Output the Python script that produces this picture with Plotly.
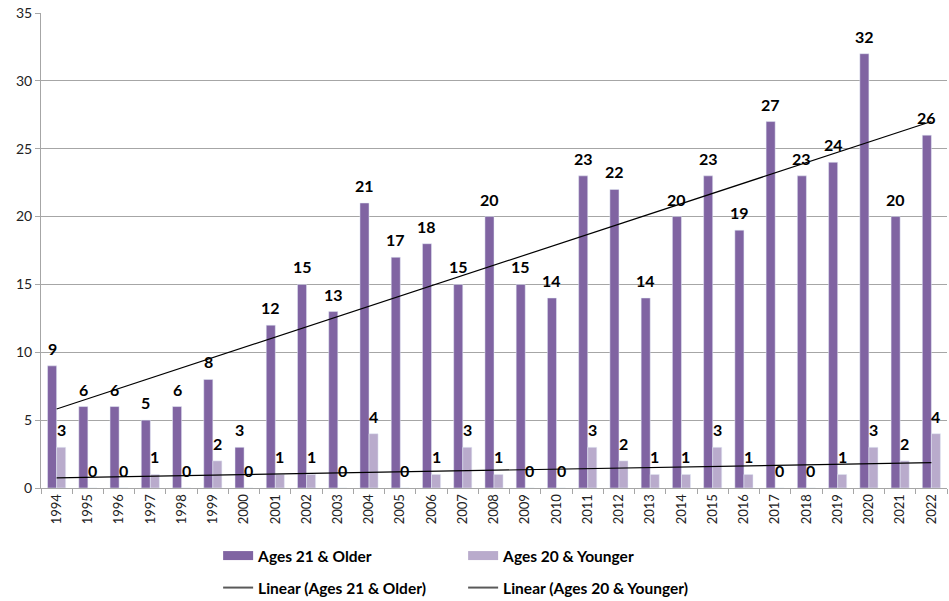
import numpy as np
import plotly.graph_objects as go

years = [str(y) for y in range(1994, 2023)]
older = [9, 6, 6, 5, 6, 8, 3, 12, 15, 13, 21, 17, 18, 15, 20, 15, 14, 23, 22, 14, 20, 23, 19, 27, 23, 24, 32, 20, 26]
younger = [3, 0, 0, 1, 0, 2, 0, 1, 1, 0, 4, 0, 1, 3, 1, 0, 0, 3, 2, 1, 1, 3, 1, 0, 0, 1, 3, 2, 4]

C_OLD = "#8064A2"
C_YNG = "#B9ABCC"
FONT = "Lato"
BARGAP = 0.42

W, H = 949, 601
ML, MR, MT, MB = 41, 2, 13, 113

idx = np.arange(len(years))
p_old = np.polyfit(idx, older, 1)
p_yng = np.polyfit(idx, younger, 1)
trend_old = np.polyval(p_old, idx)
trend_yng = np.polyval(p_yng, idx)

fig = go.Figure()
fig.add_trace(go.Bar(x=years, y=older, name="Ages 21 & Older", marker_color=C_OLD,
                     showlegend=False))
fig.add_trace(go.Bar(x=years, y=younger, name="Ages 20 & Younger", marker_color=C_YNG,
                     showlegend=False))
fig.add_trace(go.Scatter(x=years, y=trend_old, mode="lines", line=dict(color="black", width=1.2),
                         showlegend=False, hoverinfo="skip"))
fig.add_trace(go.Scatter(x=years, y=trend_yng, mode="lines", line=dict(color="black", width=1.2),
                         showlegend=False, hoverinfo="skip"))

# data labels as annotations, shifted onto each bar of the group
cat_px = (W - ML - MR) / len(years)
half_bar = cat_px * (1 - BARGAP) / 4
lab_font = dict(family=FONT, size=16, color="black", weight="bold")
for i, (vo, vy) in enumerate(zip(older, younger)):
    fig.add_annotation(x=i, y=vo, text=f"<b>{vo}</b>", showarrow=False, xshift=-half_bar,
                       yanchor="bottom", yshift=6, font=lab_font)
    fig.add_annotation(x=i, y=vy, text=f"<b>{vy}</b>", showarrow=False, xshift=half_bar,
                       yanchor="bottom", yshift=6, font=lab_font)

# legend entries
fig.add_trace(go.Scatter(x=[None], y=[None], mode="lines", line=dict(color=C_OLD, width=9),
                         name="Ages 21 & Older", legend="legend"))
fig.add_trace(go.Scatter(x=[None], y=[None], mode="lines", line=dict(color=C_YNG, width=9),
                         name="Ages 20 & Younger", legend="legend"))
fig.add_trace(go.Scatter(x=[None], y=[None], mode="lines", line=dict(color="#595959", width=2),
                         name="Linear (Ages 21 & Older)", legend="legend2"))
fig.add_trace(go.Scatter(x=[None], y=[None], mode="lines", line=dict(color="#595959", width=2),
                         name="Linear (Ages 20 & Younger)", legend="legend2"))

leg_common = dict(orientation="h", xanchor="left", yanchor="middle", x=0.1955,
                  yref="container",
                  entrywidth=200, entrywidthmode="pixels", itemwidth=30,
                  font=dict(family=FONT, size=15.5, color="black", weight="bold"),
                  bgcolor="rgba(0,0,0,0)")

fig.update_layout(
    width=W, height=H,
    margin=dict(l=ML, r=MR, t=MT, b=MB, autoexpand=False),
    paper_bgcolor="white", plot_bgcolor="white",
    barmode="group", bargap=BARGAP, bargroupgap=0,
    font=dict(family=FONT, color="black"),
    legend=dict(y=1 - 556 / 601, **leg_common),
    legend2=dict(y=1 - 588 / 601, **leg_common),
    xaxis=dict(type="category", categoryorder="array", categoryarray=years,
               range=[-0.5, len(years) - 0.5],
               tickangle=-90, tickfont=dict(size=13, family=FONT, color="#222"),
               showline=True, linecolor="#A6A6A6", linewidth=1,
               ticks="outside", ticklen=5, tickcolor="#A6A6A6",
               showgrid=False, tickson="boundaries", automargin=False),
    yaxis=dict(range=[0, 35], dtick=5, tickfont=dict(size=14, family=FONT, color="#222"),
               showline=True, linecolor="#A6A6A6", linewidth=1,
               ticks="outside", ticklen=5, tickcolor="#A6A6A6",
               showgrid=True, gridcolor="#A6A6A6", gridwidth=1, zeroline=False,
               automargin=False),
)

fig.write_html("out.html", config={"displayModeBar": False},
               post_script="document.body.style.margin='0';document.body.style.overflow='hidden';")
